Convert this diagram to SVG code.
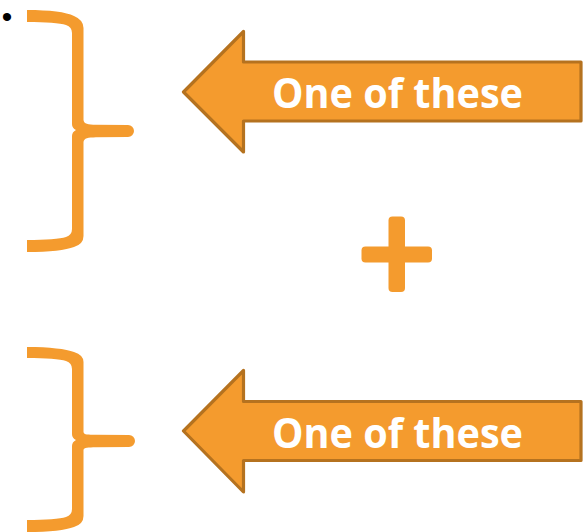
<svg xmlns="http://www.w3.org/2000/svg" width="584" height="532" viewBox="0 0 584 532">
<style>
.fill{fill:#F49B2E}
.arrow{fill:#F49B2E;stroke:#B5721F;stroke-width:3.2;stroke-linejoin:round}
.lbl{fill:#FFFFFF;font-family:"Open Sans","Liberation Sans",sans-serif;font-weight:700;font-size:41px}
.bullet{fill:#000000;font-family:"Liberation Sans",Arial,sans-serif;font-size:30px}
</style>
<rect width="584" height="532" fill="#FFFFFF"/>
<text class="bullet" x="7" y="27" text-anchor="middle">•</text>
<g id="brace1">
<path class="fill" d="M27,10 C50,10 66,12 74,16 Q83.5,20 83.5,28 L83.5,120 C84,124 88,124.5 96,124.8 L128,125 A6,6 0 0 1 128,137 L96,137.2 C88,137.5 84,138 83.5,142 L83.5,236 Q83.5,244 74,247 C66,250 50,252 27,252 L27,240 C46,240 60,239 66,237 Q72,235 72,229 L72,136 Q72,132 76,130 Q72,128 72,124 L72,33 Q72,27 66,25 C60,23 46,22 27,22 Z"/>
</g>
<g id="brace2">
<path class="fill" d="M27,347 C50,347 66,349 74,352 Q83.5,355 83.5,362 L83.5,432 C84,435 88,434.5 96,434.8 L129,435 A6,6 0 0 1 129,447 L96,447.2 C88,447.5 84,447 83.5,450 L83.5,516 Q83.5,524 74,527 C66,530 50,532 27,532 L27,520 C46,520 60,519 66,517 Q72,515 72,509 L72,446 Q72,442 76,440 Q72,438 72,434 L72,369 Q72,363 66,361 C60,359 46,358 27,358 Z"/>
</g>
<g id="arrow1">
<polygon class="arrow" points="183.5,92 243.5,31.5 243.5,62 581,62 581,121 243.5,121 243.5,152"/>
<text class="lbl" x="272" y="108" textLength="251" lengthAdjust="spacingAndGlyphs">One of these</text>
</g>
<g id="plus">
<rect class="fill" x="388.5" y="216.5" width="16.5" height="75.5" rx="4"/>
<rect class="fill" x="361.5" y="246.5" width="70.5" height="16" rx="4"/>
</g>
<g id="arrow2">
<polygon class="arrow" points="183.5,431 243.5,370.5 243.5,401.5 581,401.5 581,460.5 243.5,460.5 243.5,492"/>
<text class="lbl" x="272" y="448" textLength="251" lengthAdjust="spacingAndGlyphs">One of these</text>
</g>
<g id="connectors"></g>
</svg>
